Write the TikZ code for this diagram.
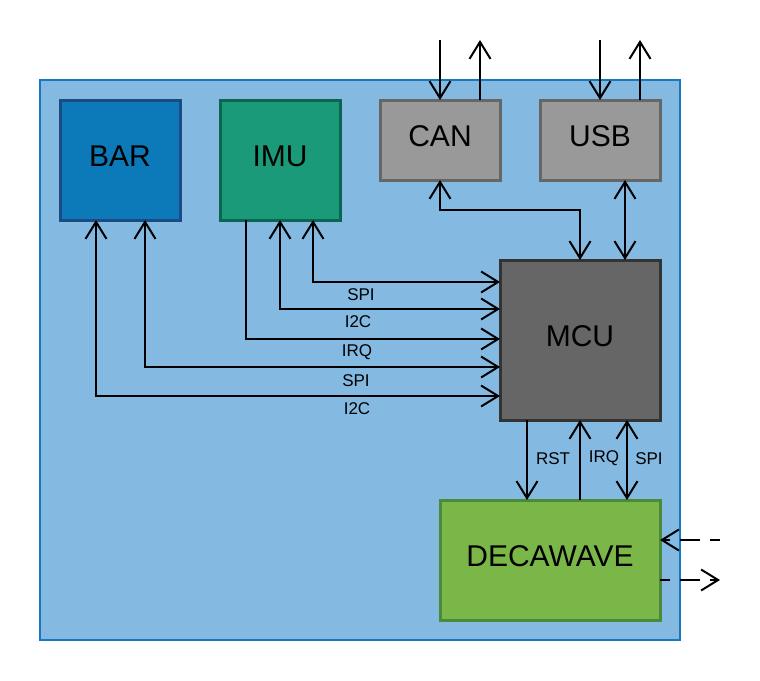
\documentclass[tikz,border=0pt]{standalone}
\usepackage{fontspec}
\setmainfont{Liberation Sans}
\usetikzlibrary{arrows.meta}
\definecolor{bgfill}{HTML}{84B9E2}
\definecolor{bgline}{HTML}{1578BC}
\definecolor{barfill}{HTML}{0C79B8}
\definecolor{barline}{HTML}{1B4B85}
\definecolor{imufill}{HTML}{1B9A7A}
\definecolor{imuline}{HTML}{0B6550}
\definecolor{grayfill}{HTML}{999999}
\definecolor{grayline}{HTML}{666666}
\definecolor{mcufill}{HTML}{666666}
\definecolor{mculine}{HTML}{333333}
\definecolor{decafill}{HTML}{7AB648}
\definecolor{decaline}{HTML}{4A8A3B}
\tikzset{
  blk/.style={draw, line width=3pt, inner sep=0pt, outer sep=0pt, text height=21.5pt, text depth=8pt, font=\fontsize{30}{32}\selectfont},
  lbl/.style={inner sep=0pt, font=\fontsize{17}{18}\selectfont},
  tipa/.tip={Straight Barb[length=17pt,width=21pt]},
  conn/.style={line width=2pt, black},
  toarr/.style={conn, -tipa},
  bothend/.style={conn, tipa-tipa},
  dashline/.style={conn, dash pattern=on 20pt off 10pt, dash phase=10pt}
}
\begin{document}
\begin{tikzpicture}[x=1pt,y=-1pt]
\useasboundingbox (0,0) rectangle (760,680);
\node[draw=bgline, fill=bgfill, line width=1.5pt, minimum width=640pt, minimum height=560pt, inner sep=0pt, outer sep=0pt] (board) at (360,360) {};
\node[blk, draw=barline, fill=barfill, minimum width=120pt, minimum height=120pt] (bar) at (120,160) {BAR};
\node[blk, draw=imuline, fill=imufill, minimum width=120pt, minimum height=120pt] (imu) at (280,160) {IMU};
\node[blk, draw=grayline, fill=grayfill, minimum width=120pt, minimum height=80pt] (can) at (440,140) {CAN};
\node[blk, draw=grayline, fill=grayfill, minimum width=120pt, minimum height=80pt] (usb) at (600,140) {USB};
\node[blk, draw=mculine, fill=mcufill, minimum width=160pt, minimum height=160pt] (mcu) at (580,340) {MCU};
\node[blk, draw=decaline, fill=decafill, minimum width=220pt, minimum height=120pt] (deca) at (550,560) {DECAWAVE};
% helper coordinates
\coordinate (canin) at (440,40);
\coordinate (canout) at (480,40);
\coordinate (usbin) at (600,40);
\coordinate (usbout) at (640,40);
\coordinate (cx480) at (480,0);
\coordinate (cx640) at (640,0);
\coordinate (canbend) at (440,210);
\coordinate (cx580) at (580,0);
\coordinate (cx625) at (625,0);
\coordinate (c313) at (313,0);
\coordinate (c280) at (280,0);
\coordinate (c246) at (246,0);
\coordinate (c145) at (145,0);
\coordinate (c96) at (96,0);
\coordinate (r282) at (0,282);
\coordinate (r309) at (0,309);
\coordinate (r339) at (0,339);
\coordinate (r367) at (0,367);
\coordinate (r396) at (0,396);
\coordinate (c527) at (527,0);
\coordinate (c627) at (627,0);
\coordinate (rin) at (0,540);
\coordinate (rout) at (0,580);
\coordinate (extin) at (720,540);
\coordinate (extout) at (720,580);
% external CAN / USB
\draw[toarr] (canin) -- (can.north -| canin);
\draw[toarr] (can.north -| cx480) -- (canout);
\draw[toarr] (usbin) -- (usb.north -| usbin);
\draw[toarr] (usb.north -| cx640) -- (usbout);
% CAN - MCU, USB - MCU
\draw[bothend] (can.south) -- (canbend) -| (mcu.north);
\draw[bothend] (usb.south -| cx625) -- (mcu.north -| cx625);
% IMU - MCU
\draw[bothend] (imu.south -| c313) |- (mcu.west |- r282);
\draw[bothend] (imu.south -| c280) |- (mcu.west |- r309);
\draw[toarr] (imu.south -| c246) |- (mcu.west |- r339);
% BAR - MCU
\draw[bothend] (bar.south -| c145) |- (mcu.west |- r367);
\draw[bothend] (bar.south -| c96) |- (mcu.west |- r396);
\node[lbl] (l1) at (361,295) {SPI};
\node[lbl] (l2) at (358,321.5) {I2C};
\node[lbl] (l3) at (357,352.5) {IRQ};
\node[lbl] (l4) at (356,380.5) {SPI};
\node[lbl] (l5) at (357,408.5) {I2C};
% MCU - DECAWAVE
\draw[toarr] (mcu.south -| c527) -- (deca.north -| c527);
\draw[toarr] (deca.north -| cx580) -- (mcu.south -| cx580);
\draw[bothend] (mcu.south -| c627) -- (deca.north -| c627);
\node[lbl] (l6) at (553,458.5) {RST};
\node[lbl] (l7) at (604,458.5) {IRQ};
\node[lbl] (l8) at (649,458.5) {SPI};
% radio
\draw[dashline, -tipa] (extin) -- (deca.east |- rin);
\draw[dashline, -tipa] (deca.east |- rout) -- (extout);
\end{tikzpicture}
\end{document}
